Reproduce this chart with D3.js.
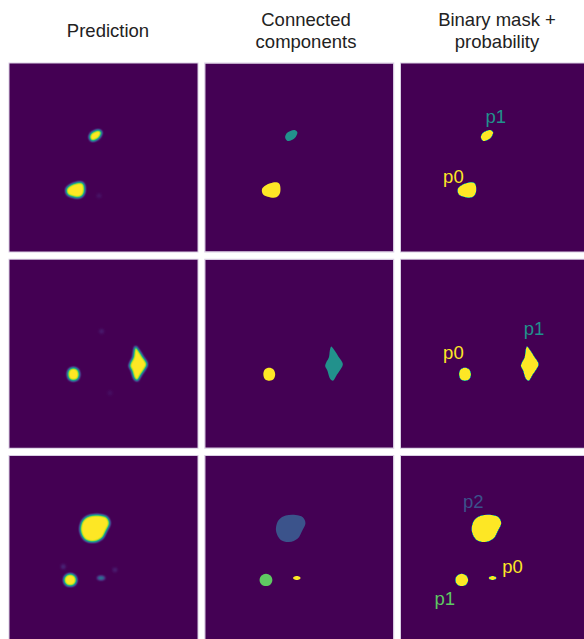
<!DOCTYPE html>
<html>
<head>
<meta charset="utf-8">
<script src="https://cdn.jsdelivr.net/npm/d3@7"></script>
<style>
  html, body { margin: 0; padding: 0; background: #ffffff; }
  svg { display: block; }
</style>
</head>
<body>
<script>
// ---------------- DATA ----------------
const columnTitles = [["Prediction"], ["Connected", "components"], ["Binary mask +", "probability"]];
const panelRows = [0, 1, 2];

// blob outlines in image units (0-100); cc = connected-component value (viridis 0..1); prob = predicted probability
const row1Blobs = [
  { id: "p0", cc: 1.0, prob: 1.0, pts: [[30.2,66.8],[32.0,64.9],[37.2,63.2],[39.4,63.9],[39.8,68.8],[37.8,71.2],[33.2,70.9],[30.6,69.4]] },
  { id: "p1", cc: 0.5, prob: 1.0, pts: [[42.5,39.4],[43.2,37.3],[45.3,35.9],[47.8,35.5],[49.0,36.6],[48.2,38.9],[46.0,40.7],[43.7,41.2]] }
];
const row2Blobs = [
  { id: "p0", cc: 1.0, prob: 1.0, pts: [[34.0,57.5],[36.3,58.4],[37.2,60.9],[36.4,63.4],[34.2,64.3],[31.8,63.5],[30.9,60.9],[31.7,58.4]] },
  { id: "p1", cc: 0.5, prob: 1.0, pts: [[67.0,46.2],[68.8,48.3],[70.8,51.5],[73.2,55.5],[72.0,58.3],[70.0,61.2],[68.0,64.3],[66.6,63.6],[65.6,61.2],[65.0,59.0],[63.8,56.5],[64.4,54.5],[65.8,51.8],[66.3,48.2]] }
];
const row3Blobs = [
  { id: "p0", cc: 1.0, prob: 0.4, pts: [[48.7,63.8],[50.2,64.2],[50.7,64.9],[50.2,65.6],[48.7,66.0],[47.2,65.6],[46.7,64.9],[47.2,64.2]] },
  { id: "p1", cc: 0.75, prob: 1.0, pts: [[32.3,62.6],[34.7,63.6],[35.7,65.9],[34.7,68.3],[32.3,69.2],[29.9,68.3],[28.9,65.9],[29.9,63.6]] },
  { id: "p2", cc: 0.25, prob: 1.0, pts: [[39.3,33.8],[42.8,31.7],[48.1,31.4],[51.9,32.6],[53.3,35.8],[51.5,39.9],[49.2,43.9],[44.6,45.8],[40.0,44.5],[37.8,40.6],[37.8,37.0]] }
];
// faint low-probability spots only visible in the prediction (x, y, prob)
const row1Faint = [[47.6,70.4,0.05]];
const row2Faint = [[49.0,38.1,0.07],[53.5,70.9,0.04]];
const row3Faint = [[28.6,58.9,0.1],[56.1,60.6,0.08]];

// label anchor (text start, baseline) in image units
const row1Labels = [{ id: "p0", x: 22.4, y: 63.3 }, { id: "p1", x: 44.9, y: 31.6 }];
const row2Labels = [{ id: "p0", x: 22.4, y: 52.8 }, { id: "p1", x: 65.3, y: 39.9 }];
const row3Labels = [{ id: "p0", x: 53.8, y: 62.4 }, { id: "p1", x: 17.8, y: 79.3 }, { id: "p2", x: 33.0, y: 27.5 }];

const rowsBlobs = [row1Blobs, row2Blobs, row3Blobs];
const rowsFaint = [row1Faint, row2Faint, row3Faint];
const rowsLabels = [row1Labels, row2Labels, row3Labels];

// ---------------- LAYOUT ----------------
const W = 584, H = 639, P = 188;
const colPos = d3.scaleLinear().domain([0, 2]).range([9.5, 401]);
const rowPos = d3.scaleLinear().domain([0, 2]).range([63.5, 456]);
const titleCenters = [108, 306, 497];
const x = d3.scaleLinear().domain([0, 100]).range([0, P]);
const y = d3.scaleLinear().domain([0, 100]).range([0, P]);
const color = d3.interpolateViridis;
const line = d3.line().x(d => x(d[0])).y(d => y(d[1])).curve(d3.curveCatmullRomClosed.alpha(0.5));

const svg = d3.select("body").append("svg").attr("width", W).attr("height", H);
const defs = svg.append("defs");

// filter mapping the (blurred) probability in alpha to viridis colours
function probFilter(id, blur) {
  const f = defs.append("filter").attr("id", id)
    .attr("filterUnits", "userSpaceOnUse")
    .attr("x", 0).attr("y", 0).attr("width", P).attr("height", P)
    .attr("color-interpolation-filters", "sRGB");
  f.append("feGaussianBlur").attr("in", "SourceGraphic").attr("stdDeviation", blur).attr("result", "b");
  f.append("feColorMatrix").attr("in", "b").attr("type", "matrix")
    .attr("values", "0 0 0 1 0  0 0 0 1 0  0 0 0 1 0  0 0 0 0 1").attr("result", "g");
  const ct = f.append("feComponentTransfer").attr("in", "g");
  const samples = d3.range(0, 1.0001, 1 / 24).map(t => d3.rgb(color(t)));
  ct.append("feFuncR").attr("type", "table").attr("tableValues", samples.map(c => (c.r / 255).toFixed(4)).join(" "));
  ct.append("feFuncG").attr("type", "table").attr("tableValues", samples.map(c => (c.g / 255).toFixed(4)).join(" "));
  ct.append("feFuncB").attr("type", "table").attr("tableValues", samples.map(c => (c.b / 255).toFixed(4)).join(" "));
}
probFilter("predF", 1.15);
probFilter("maskF", 0.5);
defs.append("filter").attr("id", "softF").attr("x", "-20%").attr("y", "-20%").attr("width", "140%").attr("height", "140%")
  .append("feGaussianBlur").attr("stdDeviation", 0.45);

// titles
columnTitles.forEach((lines, c) => {
  const t = svg.append("text")
    .attr("x", titleCenters[c])
    .attr("text-anchor", "middle")
    .attr("font-family", "'Liberation Sans', Arial, sans-serif")
    .attr("font-size", 18.5)
    .attr("fill", "#222");
  const base = lines.length === 1 ? 37 : 26;
  lines.forEach((s, i) => t.append("tspan").attr("x", titleCenters[c]).attr("y", base + i * 22.3).text(s));
});

panelRows.forEach(r => {
  const blobs = rowsBlobs[r];
  const ccById = {};
  blobs.forEach(b => ccById[b.id] = b.cc);

  for (let c = 0; c < 3; c++) {
    const g = svg.append("g").attr("transform", `translate(${colPos(c)},${rowPos(r)})`);
    g.append("rect").attr("width", P).attr("height", P).attr("fill", color(0));

    if (c === 0) {
      const fg = g.append("g").attr("filter", "url(#predF)");
      fg.selectAll("path.blob").data(blobs).join("path").attr("class", "blob")
        .attr("d", d => line(d.pts)).attr("fill", "#fff").attr("fill-opacity", d => d.prob);
      fg.selectAll("circle.faint").data(rowsFaint[r]).join("circle").attr("class", "faint")
        .attr("cx", d => x(d[0])).attr("cy", d => y(d[1])).attr("r", x(1.3))
        .attr("fill", "#fff").attr("fill-opacity", d => d[2]);
    } else if (c === 1) {
      const fg = g.append("g").attr("filter", "url(#softF)");
      fg.selectAll("path.blob").data(blobs).join("path").attr("class", "blob")
        .attr("d", d => line(d.pts)).attr("fill", d => color(d.cc));
    } else {
      const fg = g.append("g").attr("filter", "url(#maskF)");
      fg.selectAll("path.blob").data(blobs).join("path").attr("class", "blob")
        .attr("d", d => line(d.pts)).attr("fill", "#fff");
      g.selectAll("text.lbl").data(rowsLabels[r]).join("text").attr("class", "lbl")
        .attr("x", d => x(d.x)).attr("y", d => y(d.y))
        .attr("font-family", "'Liberation Sans', Arial, sans-serif")
        .attr("font-size", 18.5)
        .attr("fill", d => color(ccById[d.id]))
        .text(d => d.id);
    }
    g.append("rect").attr("x", -0.5).attr("y", -0.5).attr("width", P + 1).attr("height", P + 1)
      .attr("fill", "none").attr("stroke", "#d9cde3").attr("stroke-width", 1);
  }
});
</script>
</body>
</html>
